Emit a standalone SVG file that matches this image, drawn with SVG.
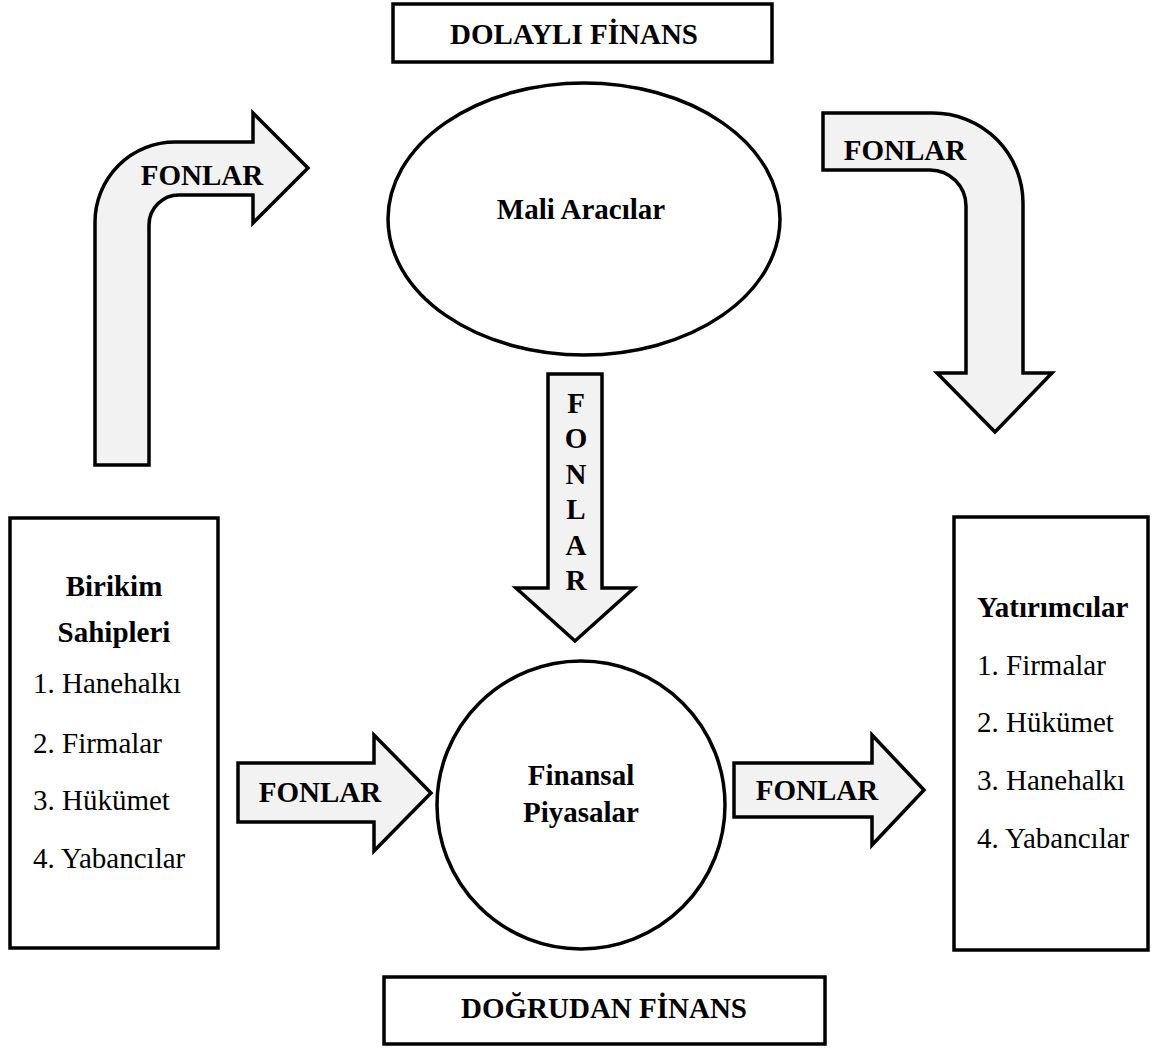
<svg xmlns="http://www.w3.org/2000/svg" width="1158" height="1050" viewBox="0 0 1158 1050">
  <style>
    .shape { fill: #ffffff; stroke: #000000; stroke-width: 3.5; }
    .flow { fill: #f2f2f2; stroke: #000000; stroke-width: 3.5; stroke-linejoin: miter; }
    text { font-family: "Liberation Serif", "Times New Roman", serif; font-size: 29px; fill: #000000; }
    .b { font-weight: bold; }
    .c { text-anchor: middle; }
  </style>

  <rect x="0" y="0" width="1158" height="1050" fill="#ffffff"/>

  <!-- flow arrows -->
  <g id="connectors">
    <g id="flow-savers-to-intermediaries">
      <path class="flow" d="M95,465 L95,222 A80,80 0 0 1 175,142 L253,142 L253,113 L308,168 L253,223 L253,195 L179,195 A30,30 0 0 0 149,225 L149,465 Z"/>
      <text class="b c" x="202" y="185">FONLAR</text>
    </g>
    <g id="flow-intermediaries-to-investors">
      <path class="flow" d="M823,113 L933,113 A90,90 0 0 1 1023,203 L1023,373 L1052,373 L995,432 L937,373 L966,373 L966,206 A36,36 0 0 0 930,170 L823,170 Z"/>
      <text class="b c" x="905" y="160">FONLAR</text>
    </g>
    <g id="flow-intermediaries-to-markets">
      <path class="flow" d="M548,374 L602,374 L602,588 L634,588 L575,641 L516,588 L548,588 Z"/>
      <text class="b c" x="576" y="413">F</text>
      <text class="b c" x="576" y="448">O</text>
      <text class="b c" x="576" y="484">N</text>
      <text class="b c" x="576" y="519">L</text>
      <text class="b c" x="576" y="555">A</text>
      <text class="b c" x="576" y="590">R</text>
    </g>
    <g id="flow-savers-to-markets">
      <path class="flow" d="M238,763 L374,763 L374,735 L431,793 L374,851 L374,822 L238,822 Z"/>
      <text class="b c" x="320" y="802">FONLAR</text>
    </g>
    <g id="flow-markets-to-investors">
      <path class="flow" d="M734,763 L872,763 L872,735 L924,790 L872,845 L872,817 L734,817 Z"/>
      <text class="b c" x="817" y="800">FONLAR</text>
    </g>
  </g>

  <g id="indirect-finance">
    <rect class="shape" x="393" y="4" width="379" height="58"/>
    <text class="b c" x="574" y="44">DOLAYLI FİNANS</text>
  </g>

  <g id="intermediaries">
    <ellipse class="shape" cx="584" cy="219" rx="196" ry="136"/>
    <text class="b c" x="581" y="219">Mali Aracılar</text>
  </g>

  <g id="markets">
    <circle class="shape" cx="581" cy="805" r="144"/>
    <text class="b c" x="581" y="785">Finansal</text>
    <text class="b c" x="581" y="822">Piyasalar</text>
  </g>

  <g id="savers">
    <rect class="shape" x="10" y="518" width="208" height="430"/>
    <text class="b c" x="114" y="596">Birikim</text>
    <text class="b c" x="114" y="642">Sahipleri</text>
    <text x="33" y="693">1. Hanehalkı</text>
    <text x="33" y="753">2. Firmalar</text>
    <text x="33" y="810">3. Hükümet</text>
    <text x="33" y="868">4. Yabancılar</text>
  </g>

  <g id="investors">
    <rect class="shape" x="954" y="517" width="194" height="433"/>
    <text class="b" x="977" y="617">Yatırımcılar</text>
    <text x="977" y="675">1. Firmalar</text>
    <text x="977" y="732">2. Hükümet</text>
    <text x="977" y="790">3. Hanehalkı</text>
    <text x="977" y="848">4. Yabancılar</text>
  </g>

  <g id="direct-finance">
    <rect class="shape" x="384" y="977" width="441" height="67"/>
    <text class="b c" x="604" y="1018">DOĞRUDAN FİNANS</text>
  </g>
</svg>
